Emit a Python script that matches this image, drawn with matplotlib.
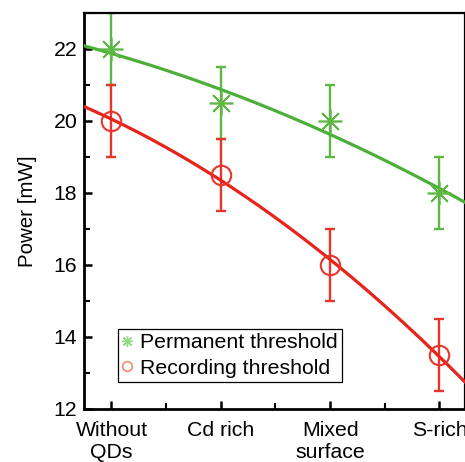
import numpy as np
import matplotlib.pyplot as plt
from matplotlib.ticker import MultipleLocator

categories = ['Without\nQDs', 'Cd rich', 'Mixed\nsurface', 'S-rich']
permanent = [22.0, 20.5, 20.0, 18.0]
permanent_err = [1.0, 1.0, 1.0, 1.0]
recording = [20.0, 18.5, 16.0, 13.5]
recording_err = [1.0, 1.0, 1.0, 1.0]

green = '#5cb842'
green_line = '#4caf3a'
red = '#e8352b'
red_line = '#e8231b'

plt.rcParams['font.family'] = 'Liberation Sans'
fs = 15.3

fig = plt.figure(figsize=(4.65, 4.62), dpi=100)
ax = fig.add_axes([0.181, 0.115, 0.818, 0.857])

x = np.arange(len(categories))
xlim = (-0.25, 3.23)
xs = np.linspace(xlim[0], xlim[1], 200)

# quadratic fits through the points
pg = np.polyfit(x, permanent, 2)
pr = np.polyfit(x, recording, 2)
ax.plot(xs, np.polyval(pg, xs), color=green_line, lw=2.3, zorder=3)
ax.plot(xs, np.polyval(pr, xs), color=red_line, lw=2.3, zorder=3)

ax.errorbar(x, permanent, yerr=permanent_err, fmt='none', ecolor=green,
            elinewidth=1.7, capsize=3.5, capthick=1.7, zorder=2)
ax.errorbar(x, recording, yerr=recording_err, fmt='none', ecolor=red,
            elinewidth=1.7, capsize=3.5, capthick=1.7, zorder=2)
ax.plot(x, permanent, linestyle='none', marker=(8, 2, 0), markersize=17,
        markeredgecolor=green, markeredgewidth=1.2, zorder=4)
ax.plot(x, recording, linestyle='none', marker='o', markersize=14,
        markerfacecolor='none', markeredgecolor=red, markeredgewidth=1.5, zorder=4)

# legend handles, small and faded like the original
h1, = ax.plot([], [], linestyle='none', marker=(8, 2, 0), markersize=8,
              markeredgecolor='#9ad88a', markeredgewidth=1.0)
h2, = ax.plot([], [], linestyle='none', marker='o', markersize=7,
              markerfacecolor='none', markeredgecolor='#f08a70', markeredgewidth=1.2)
leg = ax.legend([h1, h2], ['Permanent threshold', 'Recording threshold'],
                loc='lower left', bbox_to_anchor=(0.088, 0.068), fontsize=fs,
                frameon=True, fancybox=False, edgecolor='black', framealpha=1,
                handlelength=0.5, handletextpad=0.35, borderpad=0.2,
                labelspacing=0.3, borderaxespad=0)
leg.get_frame().set_linewidth(0.9)

ax.set_xlim(*xlim)
ax.set_ylim(12, 23)
ax.set_xticks(x)
ax.set_xticklabels(categories, fontsize=fs, linespacing=1.2)
ax.xaxis.set_minor_locator(MultipleLocator(0.5))
ax.set_yticks([12, 14, 16, 18, 20, 22])
ax.yaxis.set_minor_locator(MultipleLocator(1))
ax.tick_params(axis='both', which='major', direction='in', length=6, width=1.8,
               labelsize=fs, pad=5)
ax.tick_params(axis='both', which='minor', direction='in', length=4, width=1.5)
ax.tick_params(axis='x', which='major', pad=9)
ax.set_ylabel('Power [mW]', fontsize=fs - 0.5, labelpad=12)

for side in ['left', 'bottom']:
    ax.spines[side].set_linewidth(2.0)
for side in ['top', 'right']:
    ax.spines[side].set_linewidth(1.6)

fig.savefig('out.png', dpi=100)
